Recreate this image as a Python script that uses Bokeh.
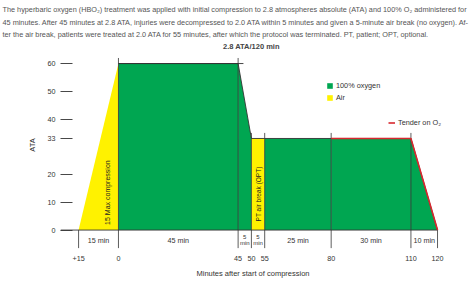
import math
from bokeh.plotting import figure
from bokeh.models import (ColumnDataSource, FixedTicker, Legend, LegendItem,
                          Title, Range1d)
from bokeh.embed import file_html
from bokeh.resources import INLINE
from bokeh.core.properties import value

# ---------------- data ----------------
caption_lines = [
    "The hyperbaric oxygen (HBO\u2082) treatment was applied with initial compression to 2.8 atmospheres absolute (ATA) and 100% O\u2082 administered for",
    "45 minutes. After 45 minutes at 2.8 ATA, injuries were decompressed to 2.0 ATA within 5 minutes and given a 5-minute air break (no oxygen). Af-",
    "ter the air break, patients were treated at 2.0 ATA for 55 minutes, after which the protocol was terminated. PT, patient; OPT, optional.",
]
boundaries = [-15, 0, 45, 50, 55, 80, 110, 120]
boundary_labels = ["+15", "0", "45", "50", "55", "80", "110", "120"]
profile_ata = [0, 60, 60, 33, 33, 33, 33, 0]
phase_labels = ["15 min", "45 min", "5\nmin", "5\nmin", "25 min", "30 min", "10 min"]
phase_gas = ["air", "oxygen", "oxygen", "air", "oxygen", "oxygen", "oxygen"]
y_ticks = [0, 10, 20, 33, 40, 50, 60]
tender_start = 80
top_label = "2.8 ATA/120 min"
compression_label = "15 Max compression"
airbreak_label = "PT air break (OPT)"

GREEN = "#00a651"
YELLOW = "#fff200"
RED = "#d7282f"
DARK = "#333333"
FONT = "Liberation Sans"
gas_color = {"oxygen": GREEN, "air": YELLOW}

p = figure(width=474, height=294, output_backend="svg", toolbar_location=None,
           x_range=Range1d(-21.8, 123), y_range=Range1d(-7, 68.3),
           min_border_left=60, min_border_right=29, min_border_top=40,
           min_border_bottom=45)
p.outline_line_color = None
p.grid.visible = False
p.background_fill_color = "white"
p.border_fill_color = "white"

# caption
cap = Title(text="\n".join(caption_lines), align="left", text_font=FONT,
            text_font_size="7.3px", text_font_style="normal", text_color="#555555",
            text_line_height=1.4, standoff=2, offset=-58)
p.add_layout(cap, "above")

# phase areas
xs, ys, cols = [], [], []
for i in range(len(phase_labels)):
    t0, t1 = boundaries[i], boundaries[i + 1]
    d0, d1 = profile_ata[i], profile_ata[i + 1]
    xs.append([t0, t0, t1, t1])
    ys.append([0, d0, d1, 0])
    cols.append(gas_color[phase_gas[i]])
areas = p.patches(xs="xs", ys="ys", fill_color="c", line_color=None,
                  source=ColumnDataSource(dict(xs=xs, ys=ys, c=cols)))

# profile outline (top), from start of oxygen
p.line(boundaries[1:], profile_ata[1:], line_color=DARK, line_width=0.9)
p.segment(x0=[boundaries[1]], y0=[profile_ata[1]], x1=[boundaries[2] + 2],
          y1=[profile_ata[2]], line_color=DARK, line_width=0.9)

# vertical boundary lines
vx, vy0, vy1 = [], [], []
for t, d in zip(boundaries, profile_ata):
    vx.append(t)
    vy0.append(-6.5)
    vy1.append(d + 2 if d > 0 else 0)
p.segment(x0=vx, y0=vy0, x1=vx, y1=vy1, line_color=DARK, line_width=0.8)

# baseline
p.segment(x0=[-21.8], y0=[0], x1=[boundaries[-1]], y1=[0], line_color=DARK, line_width=0.9)

# tender line
ti = boundaries.index(tender_start)
tender = p.line(boundaries[ti:], profile_ata[ti:], line_color=RED, line_width=1.6)

# phase labels under baseline
mids = [(boundaries[i] + boundaries[i + 1]) / 2 for i in range(len(phase_labels))]
small = ["6px" if "\n" in s else "7.2px" for s in phase_labels]
src_lab = ColumnDataSource(dict(x=mids, y=[-3.7] * len(mids), t=phase_labels, fs=small))
p.text(x="x", y="y", text="t", text_font=value(FONT), text_font_size="fs",
       text_align="center", text_baseline="middle", text_color=DARK,
       text_line_height=1.0, source=src_lab)

# annotation texts
p.text(x=[boundaries[3]], y=[max(profile_ata) + 6], text=[top_label],
       text_font=value(FONT), text_font_size="7.5px", text_font_style="bold",
       text_align="center", text_baseline="middle", text_color="#444444")
p.text(x=[boundaries[1] - 4.3], y=[13.5], text=[compression_label], angle=math.pi / 2,
       text_font=value(FONT), text_font_size="7px", text_align="center",
       text_baseline="middle", text_color="#222222")
p.text(x=[(boundaries[3] + boundaries[4]) / 2], y=[13], text=[airbreak_label],
       angle=math.pi / 2, text_font=value(FONT), text_font_size="6.5px",
       text_align="center", text_baseline="middle", text_color="#222222")

# axes
xa = p.xaxis[0]
xa.ticker = FixedTicker(ticks=boundaries)
xa.major_label_overrides = {b: l for b, l in zip(boundaries, boundary_labels)}
xa.axis_line_color = None
xa.major_tick_line_color = None
xa.minor_tick_line_color = None
xa.major_tick_in = 0
xa.major_tick_out = 0
xa.major_label_standoff = 6
xa.major_label_text_font = FONT
xa.major_label_text_font_size = "7.2px"
xa.major_label_text_color = DARK
xa.axis_label = "Minutes after start of compression"
xa.axis_label_text_font = FONT
xa.axis_label_text_font_size = "7.5px"
xa.axis_label_text_font_style = "normal"
xa.axis_label_text_color = DARK
xa.axis_label_standoff = 5

ya = p.yaxis[0]
ya.ticker = FixedTicker(ticks=y_ticks)
ya.axis_line_color = None
ya.major_tick_in = 12
ya.major_tick_out = 0
ya.major_tick_line_color = DARK
ya.major_tick_line_width = 0.9
ya.minor_tick_line_color = None
ya.major_label_standoff = 5
ya.major_label_text_font = FONT
ya.major_label_text_font_size = "7.2px"
ya.major_label_text_color = DARK
ya.axis_label = "ATA"
ya.axis_label_text_font = FONT
ya.axis_label_text_font_size = "7.5px"
ya.axis_label_text_font_style = "normal"
ya.axis_label_text_color = DARK
ya.axis_label_standoff = 8

# legends
ox_idx = phase_gas.index("oxygen")
air_idx = phase_gas.index("air")
leg1 = Legend(items=[LegendItem(label="100% oxygen", renderers=[areas], index=ox_idx),
                     LegendItem(label="Air", renderers=[areas], index=air_idx)],
              location=(266, 147), background_fill_alpha=0, border_line_alpha=0,
              padding=0, spacing=3, glyph_width=7, glyph_height=7, label_standoff=3,
              label_text_font=FONT, label_text_font_size="7.3px", label_text_color=DARK,
              label_height=7, margin=0)
leg2 = Legend(items=[LegendItem(label="Tender on O\u2082", renderers=[tender])],
              location=(328, 122), background_fill_alpha=0, border_line_alpha=0,
              padding=0, glyph_width=7, glyph_height=7, label_standoff=3,
              label_text_font=FONT, label_text_font_size="7.3px", label_text_color=DARK,
              label_height=7, margin=0)
p.add_layout(leg1, "center")
p.add_layout(leg2, "center")

open("out.html", "w").write(file_html(p, INLINE))
